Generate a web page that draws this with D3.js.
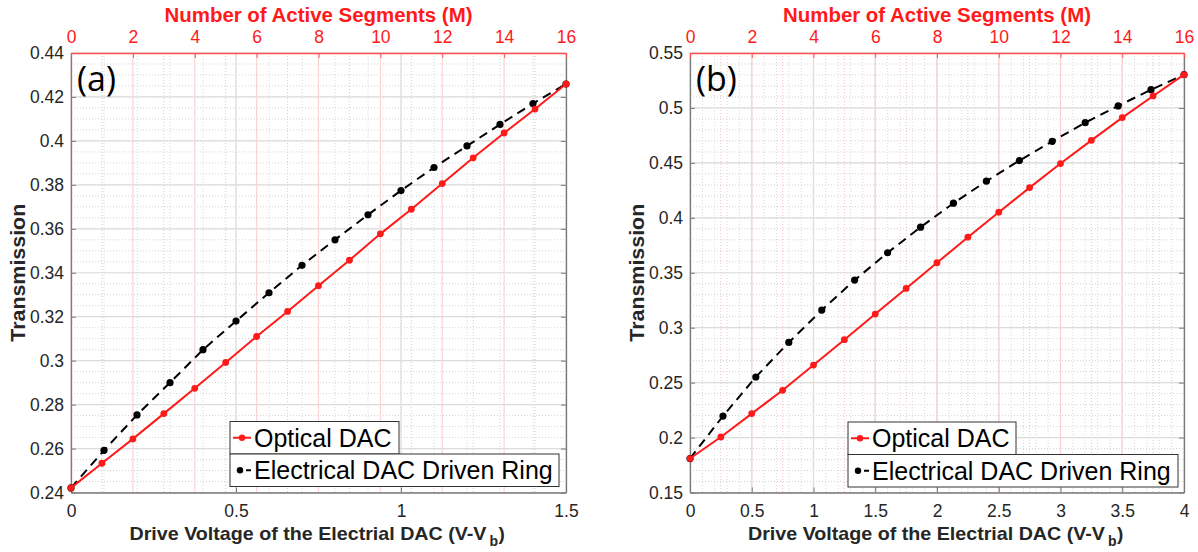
<!DOCTYPE html>
<html>
<head>
<meta charset="utf-8">
<script src="https://cdn.jsdelivr.net/npm/d3@7"></script>
<style>
  body { margin: 0; background: #fff; }
  svg { display: block; font-family: "Liberation Sans", Arial, sans-serif; }
</style>
</head>
<body>
<div id="chart-area"></div>
<script>
// number of active segments (top axis) for the optical DAC
const segments = [0, 1, 2, 3, 4, 5, 6, 7, 8, 9, 10, 11, 12, 13, 14, 15, 16];

// panel (a)
const voltageA = [0, 0.1, 0.2, 0.3, 0.4, 0.5, 0.6, 0.7, 0.8, 0.9, 1.0, 1.1, 1.2, 1.3, 1.4, 1.5];
const opticalA = [0.2421, 0.2533, 0.2644, 0.2759, 0.2874, 0.2992, 0.3110, 0.3224, 0.3341,
	0.3457, 0.3577, 0.3689, 0.3806, 0.3923, 0.4036, 0.4145, 0.4259];
const electricalA = [0.2421, 0.2592, 0.2753, 0.2900, 0.3050, 0.3180, 0.3309, 0.3434,
	0.3550, 0.3664, 0.3774, 0.3879, 0.3977, 0.4075, 0.4170, 0.4259];
const yTicksA = [0.24, 0.26, 0.28, 0.3, 0.32, 0.34, 0.36, 0.38, 0.4, 0.42, 0.44];
const xTicksA = [0, 0.5, 1, 1.5];

// panel (b)
const voltageB = [0, 0.267, 0.533, 0.8, 1.067, 1.333, 1.6, 1.867, 2.133, 2.4, 2.667,
	2.933, 3.2, 3.467, 3.733, 4];
const opticalB = [0.1809, 0.2005, 0.2218, 0.2430, 0.2660, 0.2891, 0.3124, 0.3357, 0.3591,
	0.3824, 0.4051, 0.4275, 0.4494, 0.4705, 0.4912, 0.5109, 0.5303];
const electricalB = [0.1809, 0.2196, 0.2551, 0.2866, 0.3160, 0.3433, 0.3682, 0.3915,
	0.4133, 0.4333, 0.4521, 0.4696, 0.4866, 0.5018, 0.5166, 0.5303];
const yTicksB = [0.15, 0.2, 0.25, 0.3, 0.35, 0.4, 0.45, 0.5, 0.55];
const xTicksB = [0, 0.5, 1, 1.5, 2, 2.5, 3, 3.5, 4];

const segTicks = [0, 2, 4, 6, 8, 10, 12, 14, 16];
const legendLabels = ["Optical DAC", "Electrical DAC Driven Ring"];

const svg = d3.select("#chart-area").append("svg")
	.attr("width", 1198)
	.attr("height", 552);

const fmt = d => String(+d.toFixed(3));
const red = "#ff1a1a";
const sans = "Liberation Sans, Arial, sans-serif";

function panel(p) {
	const x = d3.scaleLinear().domain(p.xDomain).range([p.left, p.right]);
	const xm = d3.scaleLinear().domain([0, 16]).range([p.left, p.right]);
	const y = d3.scaleLinear().domain(p.yDomain).range([p.bottom, p.top]);
	const g = svg.append("g");

	// minor grid
	const yMinor = d3.range(p.yDomain[0], p.yDomain[1] + 1e-9, p.yMinorStep);
	g.selectAll(".ymin").data(yMinor).enter().append("line")
		.attr("x1", p.left).attr("x2", p.right)
		.attr("y1", d => y(d)).attr("y2", d => y(d))
		.attr("stroke", "#c8c8c8").attr("stroke-width", 0.8).attr("stroke-dasharray", "1,2");
	const xMinor = d3.range(p.xDomain[0], p.xDomain[1] + 1e-9, 0.1);
	g.selectAll(".xmin").data(xMinor).enter().append("line")
		.attr("x1", d => x(d)).attr("x2", d => x(d))
		.attr("y1", p.top).attr("y2", p.bottom)
		.attr("stroke", "#cfcfcf").attr("stroke-width", 0.8).attr("stroke-dasharray", "1,2");
	g.selectAll(".mmin").data(d3.range(1, 16, 2)).enter().append("line")
		.attr("x1", d => xm(d)).attr("x2", d => xm(d))
		.attr("y1", p.top).attr("y2", p.bottom)
		.attr("stroke", "#f6b8b8").attr("stroke-width", 0.9).attr("stroke-dasharray", "1,2");

	// major grid
	g.selectAll(".ymaj").data(p.yTicks).enter().append("line")
		.attr("x1", p.left).attr("x2", p.right)
		.attr("y1", d => y(d)).attr("y2", d => y(d))
		.attr("stroke", "#dcdcdc").attr("stroke-width", 1.2);
	g.selectAll(".xmaj").data(p.xTicks).enter().append("line")
		.attr("x1", d => x(d)).attr("x2", d => x(d))
		.attr("y1", p.top).attr("y2", p.bottom)
		.attr("stroke", "#dcdcdc").attr("stroke-width", 1.2);
	g.selectAll(".mmaj").data(segTicks).enter().append("line")
		.attr("x1", d => xm(d)).attr("x2", d => xm(d))
		.attr("y1", p.top).attr("y2", p.bottom)
		.attr("stroke", "#fad4d4").attr("stroke-width", 1.2);

	// axes
	const axisL = d3.axisLeft(y).tickValues(p.yTicks).tickFormat(fmt).tickSizeInner(-5).tickSizeOuter(0).tickPadding(7);
	const axisR = d3.axisRight(y).tickValues(p.yTicks).tickFormat("").tickSizeInner(-5).tickSizeOuter(0);
	const axisB = d3.axisBottom(x).tickValues(p.xTicks).tickFormat(fmt).tickSizeInner(-5).tickSizeOuter(0).tickPadding(12);
	const axisT = d3.axisTop(xm).tickValues(segTicks).tickSizeInner(-5).tickSizeOuter(0).tickPadding(10);

	const gl = g.append("g").attr("transform", `translate(${p.left},0)`).call(axisL);
	const gr = g.append("g").attr("transform", `translate(${p.right},0)`).call(axisR);
	const gb = g.append("g").attr("transform", `translate(0,${p.bottom})`).call(axisB);
	const gt = g.append("g").attr("transform", `translate(0,${p.top})`).call(axisT);
	[gl, gr, gb].forEach(a => {
		a.select(".domain").attr("stroke", "#7a7a7a").attr("stroke-width", 1.3);
		a.selectAll(".tick line").attr("stroke", "#7a7a7a");
		a.selectAll("text").attr("fill", "#262626").attr("font-size", 17.5)
			.attr("font-family", sans);
	});
	gt.select(".domain").attr("stroke", "#ff5050").attr("stroke-width", 1.3);
	gt.selectAll(".tick line").attr("stroke", "#ff5050");
	gt.selectAll("text").attr("fill", red).attr("font-size", 17.5)
		.attr("font-family", sans);

	// axis titles
	const cx = (p.left + p.right) / 2;
	g.append("text").attr("x", cx - 154).attr("y", 22)
		.attr("font-weight", "bold").attr("font-size", 20).attr("fill", red)
		.attr("textLength", 308).attr("lengthAdjust", "spacingAndGlyphs")
		.text("Number of Active Segments (M)");
	g.append("text").attr("x", cx - 189).attr("y", 540)
		.attr("font-weight", "bold").attr("font-size", 19).attr("fill", "#262626")
		.attr("textLength", 357).attr("lengthAdjust", "spacingAndGlyphs")
		.text("Drive Voltage of the Electrial DAC (V-V");
	g.append("text").attr("x", cx + 171).attr("y", 546)
		.attr("font-weight", "bold").attr("font-size", 14).attr("fill", "#262626")
		.text("b");
	g.append("text").attr("x", cx + 180).attr("y", 540)
		.attr("font-weight", "bold").attr("font-size", 19).attr("fill", "#262626")
		.text(")");
	g.append("text")
		.attr("transform", `translate(${p.ylabelX},${(p.top + p.bottom) / 2 + 69}) rotate(-90)`)
		.attr("dy", "0.35em")
		.attr("font-weight", "bold").attr("font-size", 20).attr("fill", "#262626")
		.attr("textLength", 138).attr("lengthAdjust", "spacingAndGlyphs")
		.text("Transmission");

	// series
	const lineM = d3.line().x((d, i) => xm(segments[i])).y(d => y(d));
	const lineV = d3.line().x((d, i) => x(p.voltage[i])).y(d => y(d));
	g.append("path").datum(p.electrical).attr("d", lineV)
		.attr("fill", "none").attr("stroke", "#000").attr("stroke-width", 2)
		.attr("stroke-dasharray", "9,6");
	g.selectAll(".edot").data(p.electrical).enter().append("circle")
		.attr("cx", (d, i) => x(p.voltage[i])).attr("cy", d => y(d)).attr("r", 3.6).attr("fill", "#000");
	g.append("path").datum(p.optical).attr("d", lineM)
		.attr("fill", "none").attr("stroke", red).attr("stroke-width", 2);
	g.selectAll(".odot").data(p.optical).enter().append("circle")
		.attr("cx", (d, i) => xm(segments[i])).attr("cy", d => y(d)).attr("r", 3.4).attr("fill", red);

	// panel letter
	g.append("text").attr("x", p.left + 6).attr("y", 91)
		.attr("font-family", "Open Sans, sans-serif").attr("font-size", 34).attr("fill", "#000")
		.text(p.letter);

	// legend: two stacked boxes
	const lx = p.legendX, ly = p.legendY, bh = 32.5;
	const widths = [p.legendW1, p.legendW2];
	legendLabels.forEach((lab, i) => {
		const top = ly + i * bh;
		g.append("rect").attr("x", lx).attr("y", top).attr("width", widths[i]).attr("height", bh)
			.attr("fill", "#fff").attr("stroke", "#333").attr("stroke-width", 1);
		const col = i === 0 ? red : "#000";
		g.append("line").attr("x1", lx + 3).attr("x2", lx + 21)
			.attr("y1", top + bh / 2).attr("y2", top + bh / 2)
			.attr("stroke", col).attr("stroke-width", 2)
			.attr("stroke-dasharray", i === 0 ? null : "0,13,8,4");
		g.append("circle").attr("cx", i === 0 ? lx + 12 : lx + 10).attr("cy", top + bh / 2)
			.attr("r", 3.2).attr("fill", col);
		g.append("text").attr("x", lx + 24).attr("y", top + bh / 2).attr("dy", "0.36em")
			.attr("font-size", 25).attr("fill", "#000").text(lab);
	});
}

panel({
	left: 71, right: 566, top: 53, bottom: 492.5,
	xDomain: [0, 1.5], yDomain: [0.24, 0.44], yMinorStep: 0.005,
	xTicks: xTicksA, yTicks: yTicksA,
	voltage: voltageA, optical: opticalA, electrical: electricalA,
	letter: "(a)", ylabelX: 18,
	legendX: 230, legendY: 421.5, legendW1: 169, legendW2: 329
});

panel({
	left: 690, right: 1184, top: 53, bottom: 492.5,
	xDomain: [0, 4], yDomain: [0.15, 0.55], yMinorStep: 0.01,
	xTicks: xTicksB, yTicks: yTicksB,
	voltage: voltageB, optical: opticalB, electrical: electricalB,
	letter: "(b)", ylabelX: 637,
	legendX: 848, legendY: 422, legendW1: 168, legendW2: 330
});
</script>
</body>
</html>
